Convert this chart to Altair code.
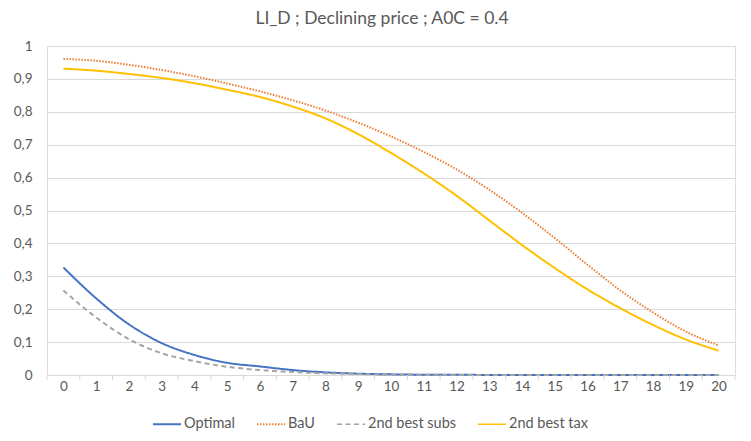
import altair as alt
import pandas as pd

years = list(range(21))
optimal = [0.327, 0.233, 0.154, 0.097, 0.061, 0.037, 0.026, 0.015, 0.008, 0.004, 0.002,
           0.001, 0.001, 0.0, 0.0, 0.0, 0.0, 0.0, 0.0, 0.0, 0.0]
bau = [0.961, 0.955, 0.943, 0.927, 0.908, 0.886, 0.862, 0.835, 0.804, 0.767, 0.725,
       0.678, 0.625, 0.563, 0.493, 0.416, 0.335, 0.257, 0.190, 0.132, 0.090]
subs = [0.257, 0.175, 0.109, 0.066, 0.042, 0.025, 0.015, 0.009, 0.005, 0.003, 0.001,
        0.001, 0.0, 0.0, 0.0, 0.0, 0.0, 0.0, 0.0, 0.0, 0.0]
tax = [0.931, 0.925, 0.915, 0.903, 0.887, 0.867, 0.845, 0.816, 0.780, 0.732, 0.675,
       0.613, 0.545, 0.470, 0.395, 0.325, 0.260, 0.203, 0.152, 0.108, 0.074]

series_names = ["Optimal", "BaU", "2nd best subs", "2nd best tax"]
series_vals = [optimal, bau, subs, tax]
colors = ["#4472C4", "#ED7D31", "#A5A5A5", "#FFC000"]
dashes = [[1, 0], [1.5, 1.5], [5, 3.5], [1, 0]]

rows = []
for name, vals in zip(series_names, series_vals):
    for yr, v in zip(years, vals):
        rows.append({"year": yr, "value": v, "series": name})
df = pd.DataFrame(rows)

tick_df = pd.DataFrame({"b": [y - 0.5 for y in years] + [years[-1] + 0.5]})

W, H = 688, 329
FONT = "Lato"
GREY = "#595959"

xscale = alt.Scale(domain=[-0.5, 20.5], nice=False, zero=False)
xaxis = alt.Axis(values=years, title=None, grid=False, tickSize=0,
                 domainColor="#d9d9d9", labelColor=GREY, labelFont=FONT,
                 labelFontSize=13.5, labelPadding=4, labelOverlap=False,
                 labelFlush=False, format="d")

lines = alt.Chart(df).mark_line(strokeWidth=2, interpolate="monotone").encode(
    x=alt.X("year:Q", scale=xscale, axis=xaxis),
    y=alt.Y("value:Q", scale=alt.Scale(domain=[0, 1], nice=False),
            axis=alt.Axis(values=[0, 0.1, 0.2, 0.3, 0.4, 0.5, 0.6, 0.7, 0.8, 0.9, 1.0],
                          title=None, domain=False, ticks=False, gridColor="#d9d9d9",
                          labelColor=GREY, labelFont=FONT, labelFontSize=13.5,
                          labelPadding=15,
                          labelExpr="replace(format(datum.value, '.1~f'), '.', ',')")),
    color=alt.Color("series:N", scale=alt.Scale(domain=series_names, range=colors),
                    legend=alt.Legend(title=None, orient="none", direction="horizontal",
                                      legendX=105, legendY=363, symbolType="stroke",
                                      symbolSize=784, symbolStrokeWidth=1.6,
                                      labelFont=FONT, labelFontSize=14.5, labelColor=GREY,
                                      labelOffset=2, columnPadding=18)),
    strokeDash=alt.StrokeDash("series:N", scale=alt.Scale(domain=series_names, range=dashes),
                              legend=None),
    strokeWidth=alt.StrokeWidth("series:N",
                                scale=alt.Scale(domain=series_names, range=[2, 1.5, 1.6, 2]),
                                legend=None),
)

ticks = alt.Chart(tick_df).mark_rule(color="#d9d9d9", strokeWidth=1).encode(
    x=alt.X("b:Q", scale=xscale, axis=xaxis),
    y=alt.value(H),
    y2=alt.value(H + 5),
)

chart = alt.layer(lines, ticks).properties(
    width=W, height=H,
    title=alt.TitleParams("LI_D ; Declining price ; A0C = 0.4", font=FONT, fontSize=17.5,
                          fontWeight="normal", color=GREY, offset=12, dx=-9),
    autosize=alt.AutoSizeParams(type="none"),
    padding={"left": 39, "top": 38, "right": 8, "bottom": 58},
).configure_view(stroke=None).configure(background="white")

chart.save("out.html", embed_options={"renderer": "svg", "actions": False})
